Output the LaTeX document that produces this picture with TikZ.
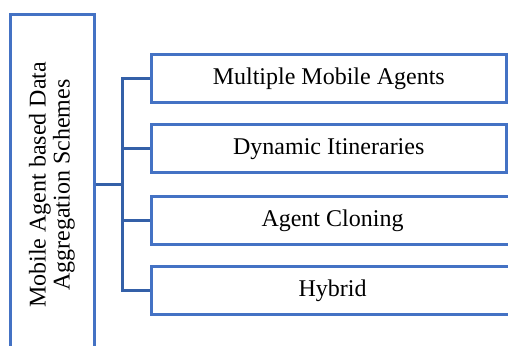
\documentclass[tikz,border=0pt]{standalone}
\usepackage{fontspec}
\setmainfont{Liberation Serif}
\usepackage{xcolor}
\usetikzlibrary{positioning, calc}

\definecolor{boxblue}{HTML}{4472C4}
\definecolor{linkblue}{HTML}{3460A8}

\begin{document}
\begin{tikzpicture}[x=0.5pt, y=-0.5pt,
    schemebox/.style={rectangle,draw=boxblue,line width=1.5pt,fill=white,font=\fontsize{12}{12}\selectfont},
    typebox/.style={schemebox,minimum height=24pt,inner sep=0pt},
    link/.style={draw=linkblue,line width=1.5pt}]
    \clip (0,0) rectangle (508,346);
    \fill[white] (0,0) rectangle (508,346);

    % Schema principale
    \node[schemebox,minimum width=42pt,minimum height=170pt] (main) at (52,185) {};
    \node[font=\fontsize{12}{12}\selectfont,rotate=90,align=center] at (main.center) {Mobile Agent based Data\\Aggregation Schemes};

    % Tipi
    \node[typebox,minimum width=177.75pt] (multi) at (328.75,79) {Multiple Mobile Agents};
    \node[typebox,minimum width=177.75pt] (dyn) at (328.75,149) {Dynamic Itineraries};
    \node[typebox,minimum width=181.5pt] (clone) at (332.5,221) {Agent Cloning};
    \node[typebox,minimum width=181.5pt] (hybrid) at (332.5,291) {Hybrid};

    % Collegamenti
    \coordinate (trunk) at (122,185);
    \draw[link] (main.east) -- (trunk);
    \draw[link,line cap=rect] (trunk |- multi.west) -- (trunk |- hybrid.west);
    \foreach \t in {multi,dyn,clone,hybrid}
        \draw[link] (trunk |- \t.west) -- (\t.west);
\end{tikzpicture}
\end{document}
